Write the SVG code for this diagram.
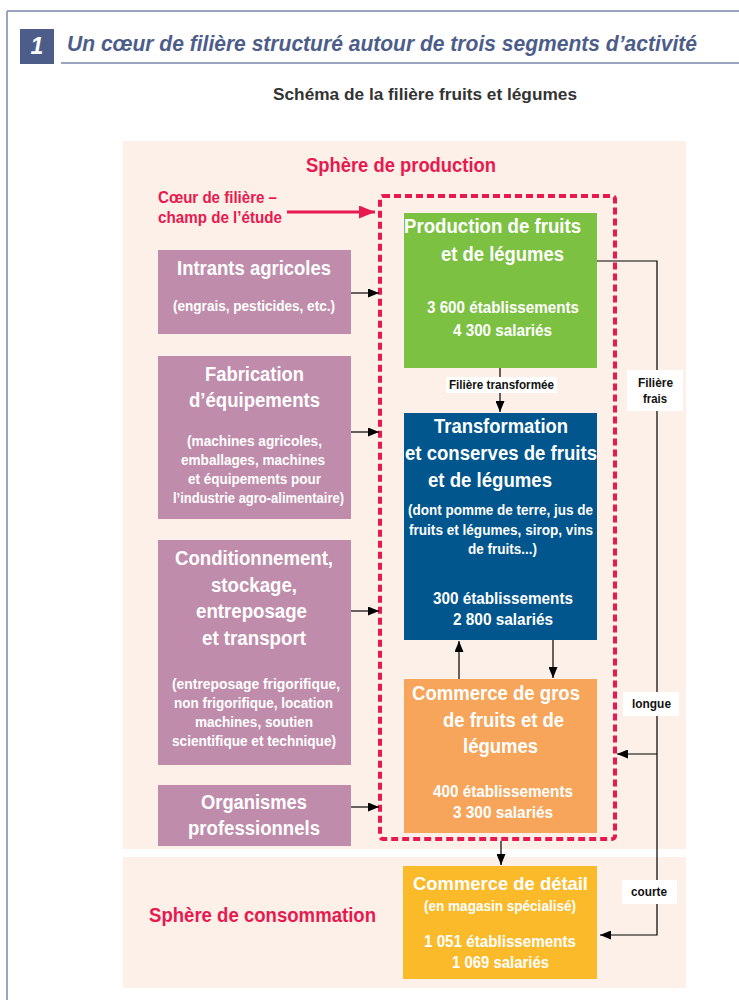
<svg xmlns="http://www.w3.org/2000/svg" width="739" height="1000" viewBox="0 0 739 1000">
<defs>
<style>
text{font-family:"Liberation Sans",Arial,sans-serif;font-weight:bold}
.w{fill:#fff}
.t{font-size:20px}
.s{font-size:14.5px}
.n{font-size:16px}
.red{fill:#e8194f}
.lab{font-size:13px;fill:#111}
.conn{stroke:#000;stroke-width:1.2;fill:none}
.pur{fill:#bf8dab}
.bg{fill:#fcf0e8}
.lb{fill:#fff}
</style>
<marker id="ah" markerUnits="userSpaceOnUse" markerWidth="11" markerHeight="9" refX="11" refY="4.5" orient="auto"><path d="M0,0 L11,4.5 L0,9 z" fill="#000"/></marker>
<marker id="ahr" markerUnits="userSpaceOnUse" markerWidth="16" markerHeight="13" refX="16" refY="6.5" orient="auto"><path d="M0,0 L16,6.5 L0,13 z" fill="#e8194f"/></marker>
</defs>

<g id="header">
<line x1="7" y1="11" x2="739" y2="11" stroke="#9aa5bf" stroke-width="2"/>
<line x1="7" y1="11" x2="7" y2="1000" stroke="#9aa5bf" stroke-width="2"/>
<rect x="20" y="29" width="34" height="35" fill="#4d5d8a"/>
<text x="37" y="54" text-anchor="middle" class="w" style="font-size:23px;font-style:italic">1</text>
<line x1="61" y1="63" x2="739" y2="63" stroke="#9aa5bf" stroke-width="2"/>
<text x="67" y="51" textLength="630" lengthAdjust="spacingAndGlyphs" style="font-size:22px;font-style:italic;fill:#4d5d8a">Un cœur de filière structuré autour de trois segments d’activité</text>
<text x="273" y="100" textLength="304" lengthAdjust="spacingAndGlyphs" style="font-size:17px;fill:#333">Schéma de la filière fruits et légumes</text>
</g>

<g id="sphere-production">
<rect x="123" y="141" width="563" height="708" class="bg"/>
<text x="306" y="172" textLength="190" lengthAdjust="spacingAndGlyphs" class="red" style="font-size:21px">Sphère de production</text>
</g>
<g id="sphere-consommation">
<rect x="123" y="857" width="563" height="131" class="bg"/>
<text x="149" y="922" textLength="227" lengthAdjust="spacingAndGlyphs" class="red" style="font-size:21px">Sphère de consommation</text>
</g>

<g id="coeur-filiere">
<rect x="380" y="196" width="235" height="643" rx="3" fill="none" stroke="#e8194f" stroke-width="4" stroke-dasharray="7 4"/>
<text x="158" y="203" textLength="119" lengthAdjust="spacingAndGlyphs" class="red" style="font-size:17px">Cœur de filière –</text>
<text x="158" y="223" textLength="124" lengthAdjust="spacingAndGlyphs" class="red" style="font-size:17px">champ de l’étude</text>
</g>

<g id="intrants">
<rect x="158" y="250" width="193" height="84" class="pur"/>
<text x="177" y="275" textLength="154" lengthAdjust="spacingAndGlyphs" class="w t">Intrants agricoles</text>
<text x="173" y="311" textLength="162" lengthAdjust="spacingAndGlyphs" class="w s">(engrais, pesticides, etc.)</text>
</g>

<g id="fabrication">
<rect x="158" y="356" width="193" height="163" class="pur"/>
<text x="205" y="381" textLength="99" lengthAdjust="spacingAndGlyphs" class="w t">Fabrication</text>
<text x="189" y="407" textLength="131" lengthAdjust="spacingAndGlyphs" class="w t">d’équipements</text>
<text x="187" y="446" textLength="135" lengthAdjust="spacingAndGlyphs" class="w s">(machines agricoles,</text>
<text x="181" y="465" textLength="144" lengthAdjust="spacingAndGlyphs" class="w s">emballages, machines</text>
<text x="188" y="484" textLength="133" lengthAdjust="spacingAndGlyphs" class="w s">et équipements pour</text>
<text x="173" y="503" textLength="171" lengthAdjust="spacingAndGlyphs" class="w s">l’industrie agro-alimentaire)</text>
</g>

<g id="conditionnement">
<rect x="158" y="540" width="193" height="225" class="pur"/>
<text x="175" y="565" textLength="158" lengthAdjust="spacingAndGlyphs" class="w t">Conditionnement,</text>
<text x="211" y="592" textLength="86" lengthAdjust="spacingAndGlyphs" class="w t">stockage,</text>
<text x="196" y="618" textLength="111" lengthAdjust="spacingAndGlyphs" class="w t">entreposage</text>
<text x="202" y="645" textLength="104" lengthAdjust="spacingAndGlyphs" class="w t">et transport</text>
<text x="172" y="689" textLength="168" lengthAdjust="spacingAndGlyphs" class="w s">(entreposage frigorifique,</text>
<text x="174" y="708" textLength="159" lengthAdjust="spacingAndGlyphs" class="w s">non frigorifique, location</text>
<text x="195" y="727" textLength="118" lengthAdjust="spacingAndGlyphs" class="w s">machines, soutien</text>
<text x="172" y="746" textLength="164" lengthAdjust="spacingAndGlyphs" class="w s">scientifique et technique)</text>
</g>

<g id="organismes">
<rect x="158" y="785" width="193" height="61" class="pur"/>
<text x="201" y="809" textLength="106" lengthAdjust="spacingAndGlyphs" class="w t">Organismes</text>
<text x="188" y="835" textLength="132" lengthAdjust="spacingAndGlyphs" class="w t">professionnels</text>
</g>

<g id="production">
<rect x="404" y="213" width="193" height="155" fill="#7dc142"/>
<text x="404" y="233" textLength="177" lengthAdjust="spacingAndGlyphs" class="w t">Production de fruits</text>
<text x="441" y="261" textLength="123" lengthAdjust="spacingAndGlyphs" class="w t">et de légumes</text>
<text x="427" y="313" textLength="152" lengthAdjust="spacingAndGlyphs" class="w n">3 600 établissements</text>
<text x="453" y="336" textLength="99" lengthAdjust="spacingAndGlyphs" class="w n">4 300 salariés</text>
</g>

<g id="transformation">
<rect x="404" y="413" width="193" height="227" fill="#00568d"/>
<text x="434" y="433" textLength="134" lengthAdjust="spacingAndGlyphs" class="w t">Transformation</text>
<text x="405" y="460" textLength="192" lengthAdjust="spacingAndGlyphs" class="w t">et conserves de fruits</text>
<text x="428" y="487" textLength="124" lengthAdjust="spacingAndGlyphs" class="w t">et de légumes</text>
<text x="408" y="515" textLength="185" lengthAdjust="spacingAndGlyphs" class="w s">(dont pomme de terre, jus de</text>
<text x="409" y="535" textLength="184" lengthAdjust="spacingAndGlyphs" class="w s">fruits et légumes, sirop, vins</text>
<text x="468" y="554" textLength="69" lengthAdjust="spacingAndGlyphs" class="w s">de fruits...)</text>
<text x="433" y="604" textLength="140" lengthAdjust="spacingAndGlyphs" class="w n">300 établissements</text>
<text x="453" y="625" textLength="100" lengthAdjust="spacingAndGlyphs" class="w n">2 800 salariés</text>
</g>

<g id="commerce-gros">
<rect x="404" y="679" width="193" height="154" fill="#f6a55a"/>
<text x="412" y="700" textLength="168" lengthAdjust="spacingAndGlyphs" class="w t">Commerce de gros</text>
<text x="443" y="727" textLength="121" lengthAdjust="spacingAndGlyphs" class="w t">de fruits et de</text>
<text x="463" y="753" textLength="75" lengthAdjust="spacingAndGlyphs" class="w t">légumes</text>
<text x="433" y="797" textLength="140" lengthAdjust="spacingAndGlyphs" class="w n">400 établissements</text>
<text x="453" y="818" textLength="100" lengthAdjust="spacingAndGlyphs" class="w n">3 300 salariés</text>
</g>

<g id="commerce-detail">
<rect x="403" y="866" width="194" height="113" fill="#fbba2a"/>
<text x="413" y="890" textLength="175" lengthAdjust="spacingAndGlyphs" class="w" style="font-size:19px">Commerce de détail</text>
<text x="424" y="911" textLength="152" lengthAdjust="spacingAndGlyphs" class="w s">(en magasin spécialisé)</text>
<text x="424" y="947" textLength="152" lengthAdjust="spacingAndGlyphs" class="w n">1 051 établissements</text>
<text x="452" y="968" textLength="97" lengthAdjust="spacingAndGlyphs" class="w n">1 069 salariés</text>
</g>

<g id="connectors">
<line x1="287" y1="212" x2="375" y2="212" stroke="#e8194f" stroke-width="3" marker-end="url(#ahr)"/>
<line x1="351" y1="293" x2="379" y2="293" class="conn" marker-end="url(#ah)"/>
<line x1="351" y1="432" x2="379" y2="432" class="conn" marker-end="url(#ah)"/>
<line x1="351" y1="611" x2="379" y2="611" class="conn" marker-end="url(#ah)"/>
<line x1="351" y1="807" x2="379" y2="807" class="conn" marker-end="url(#ah)"/>
<line x1="500" y1="368" x2="500" y2="412" class="conn" marker-end="url(#ah)"/>
<line x1="459" y1="679" x2="459" y2="641" class="conn" marker-end="url(#ah)"/>
<line x1="553" y1="640" x2="553" y2="678" class="conn" marker-end="url(#ah)"/>
<line x1="501" y1="841" x2="501" y2="865" class="conn" marker-end="url(#ah)"/>
<polyline points="597,261 657,261 657,935 600,935" class="conn" marker-end="url(#ah)"/>
<line x1="657" y1="754" x2="617" y2="754" class="conn" marker-end="url(#ah)"/>
<rect x="446" y="377" width="111" height="16" class="lb"/>
<text x="449" y="389" textLength="105" lengthAdjust="spacingAndGlyphs" class="lab">Filière transformée</text>
<rect x="627" y="370" width="56" height="41" class="lb"/>
<text x="638" y="387" textLength="35" lengthAdjust="spacingAndGlyphs" class="lab">Filière</text>
<text x="643" y="403" textLength="24" lengthAdjust="spacingAndGlyphs" class="lab">frais</text>
<rect x="623" y="692" width="56" height="24" class="lb"/>
<text x="632" y="708" textLength="39" lengthAdjust="spacingAndGlyphs" class="lab">longue</text>
<rect x="622" y="880" width="55" height="24" class="lb"/>
<text x="631" y="896" textLength="36" lengthAdjust="spacingAndGlyphs" class="lab">courte</text>
</g>
</svg>
